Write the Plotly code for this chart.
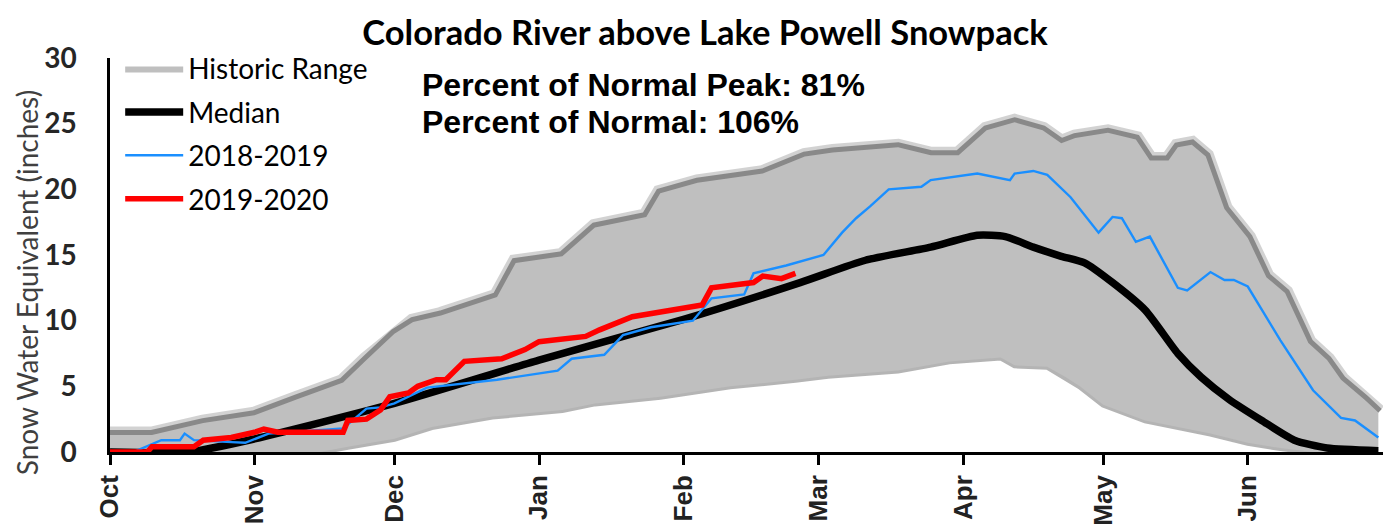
import plotly.graph_objects as go

# ---------------- data ----------------
max_dates = ["2019-10-01", "2019-10-10", "2019-10-21", "2019-11-01", "2019-11-10", "2019-11-20",
             "2019-11-25", "2019-12-01", "2019-12-05", "2019-12-11", "2019-12-23", "2019-12-27",
             "2020-01-06", "2020-01-13", "2020-01-24", "2020-01-27", "2020-02-04", "2020-02-18",
             "2020-02-27", "2020-03-04", "2020-03-18", "2020-03-25", "2020-03-31", "2020-04-06",
             "2020-04-12", "2020-04-18", "2020-04-22", "2020-04-25", "2020-05-02", "2020-05-08",
             "2020-05-11", "2020-05-15", "2020-05-17", "2020-05-20", "2020-05-23", "2020-05-27",
             "2020-06-01", "2020-06-05", "2020-06-09", "2020-06-14", "2020-06-18", "2020-06-21",
             "2020-06-26", "2020-06-29"]
max_vals = [1.3, 1.3, 2.2, 2.8, 4.0, 5.3,
            7.0, 9.0, 9.9, 10.4, 11.8, 14.4,
            14.9, 17.1, 17.9, 19.7, 20.5, 21.2,
            22.5, 22.8, 23.2, 22.6, 22.6, 24.5,
            25.1, 24.5, 23.5, 23.9, 24.3, 23.8,
            22.2, 22.2, 23.2, 23.4, 22.5, 18.5,
            16.3, 13.3, 12.1, 8.3, 7.0, 5.5,
            4.0, 3.0]

min_dates = ["2019-10-01", "2019-11-15", "2019-11-21", "2019-12-01", "2019-12-09", "2019-12-22",
             "2020-01-06", "2020-01-13", "2020-01-27", "2020-02-11", "2020-02-25", "2020-03-03",
             "2020-03-18", "2020-03-29", "2020-04-09", "2020-04-12", "2020-04-19", "2020-04-23",
             "2020-04-26", "2020-05-01", "2020-05-10", "2020-05-24", "2020-06-01", "2020-06-08",
             "2020-06-15", "2020-06-29"]
min_vals = [0.0, 0.0, 0.4, 1.0, 1.9, 2.7,
            3.2, 3.7, 4.2, 5.0, 5.5, 5.8,
            6.2, 6.9, 7.2, 6.6, 6.5, 5.7,
            5.0, 3.6, 2.4, 1.4, 0.7, 0.3,
            0.0, 0.0]

median_dates = ["2019-10-01", "2019-10-18", "2019-11-01", "2019-12-01", "2020-01-01", "2020-02-01",
                "2020-02-26", "2020-03-11", "2020-03-25", "2020-04-04", "2020-04-10", "2020-04-16",
                "2020-04-22", "2020-04-27", "2020-05-03", "2020-05-10", "2020-05-17", "2020-05-22",
                "2020-05-28", "2020-06-04", "2020-06-11", "2020-06-18", "2020-06-29"]
median_vals = [0.0, 0.0, 1.0, 3.7, 7.0, 10.1,
               12.9, 14.6, 15.6, 16.5, 16.4, 15.6,
               14.9, 14.4, 12.9, 10.8, 7.5, 5.7,
               4.0, 2.4, 0.9, 0.3, 0.1]

wy2019_dates = ["2019-10-01", "2019-10-06", "2019-10-12", "2019-10-16", "2019-10-17", "2019-10-19",
                "2019-10-27", "2019-10-30", "2019-11-04", "2019-11-20", "2019-11-25", "2019-11-28",
                "2019-12-01", "2019-12-08", "2019-12-23", "2020-01-05", "2020-01-08", "2020-01-15",
                "2020-01-19", "2020-01-25", "2020-02-03", "2020-02-07", "2020-02-14", "2020-02-16",
                "2020-02-23", "2020-03-02", "2020-03-06", "2020-03-09", "2020-03-12", "2020-03-16",
                "2020-03-23", "2020-03-25", "2020-04-04", "2020-04-11", "2020-04-12", "2020-04-16",
                "2020-04-19", "2020-04-24", "2020-04-30", "2020-05-03", "2020-05-05", "2020-05-08",
                "2020-05-11", "2020-05-17", "2020-05-19", "2020-05-24", "2020-05-27", "2020-05-29",
                "2020-06-01", "2020-06-08", "2020-06-15", "2020-06-21", "2020-06-24", "2020-06-29"]
wy2019_vals = [0.0, 0.0, 0.9, 0.9, 1.4, 0.9,
               0.75, 0.7, 1.4, 1.8, 3.3, 3.4,
               3.7, 4.9, 5.5, 6.2, 7.1, 7.4,
               8.9, 9.5, 10.0, 11.7, 12.0, 13.6,
               14.2, 15.0, 16.7, 17.8, 18.7, 20.0,
               20.2, 20.7, 21.2, 20.7, 21.2, 21.4,
               21.1, 19.4, 16.7, 17.9, 17.8, 16.0,
               16.4, 12.5, 12.3, 13.7, 13.1, 13.1,
               12.6, 8.5, 4.7, 2.6, 2.4, 1.1]

wy2020_dates = ["2019-10-01", "2019-10-09", "2019-10-10", "2019-10-19", "2019-10-21", "2019-10-27",
                "2019-11-01", "2019-11-03", "2019-11-06", "2019-11-20", "2019-11-21", "2019-11-25",
                "2019-11-28", "2019-11-30", "2019-12-04", "2019-12-06", "2019-12-10", "2019-12-12",
                "2019-12-16", "2019-12-24", "2019-12-29", "2020-01-01", "2020-01-11", "2020-01-14",
                "2020-01-21", "2020-01-27", "2020-02-05", "2020-02-07", "2020-02-16", "2020-02-18",
                "2020-02-22", "2020-02-25"]
wy2020_vals = [0.0, 0.0, 0.4, 0.4, 0.9, 1.1,
               1.5, 1.75, 1.5, 1.5, 2.4, 2.5,
               3.2, 4.2, 4.5, 5.0, 5.5, 5.5,
               6.9, 7.1, 7.8, 8.4, 8.8, 9.3,
               10.3, 10.7, 11.2, 12.5, 12.9, 13.4,
               13.2, 13.6]

month_ticks = ["2019-10-01", "2019-11-01", "2019-12-01", "2020-01-01", "2020-02-01",
               "2020-03-01", "2020-04-01", "2020-05-01", "2020-06-01"]
month_labels = ["Oct", "Nov", "Dec", "Jan", "Feb", "Mar", "Apr", "May", "Jun"]

title_text = "Colorado River above Lake Powell Snowpack"
y_title = "Snow Water Equivalent (inches)"
note_lines = ["Percent of Normal Peak: 81%", "Percent of Normal: 106%"]
note_y = [0.931, 0.8376]

# ---------------- figure ----------------
fig = go.Figure()

# soft glow along the band edges (drawn first, partly covered by the fill)
fig.add_trace(go.Scatter(x=max_dates, y=max_vals, mode="lines",
                         line=dict(color="rgba(205,205,205,0.9)", width=17),
                         showlegend=False, hoverinfo="skip"))
fig.add_trace(go.Scatter(x=max_dates, y=max_vals, mode="lines",
                         line=dict(color="rgba(125,125,125,0.85)", width=10),
                         showlegend=False, hoverinfo="skip"))
fig.add_trace(go.Scatter(x=min_dates, y=min_vals, mode="lines",
                         line=dict(color="rgba(130,130,130,0.6)", width=6),
                         showlegend=False, hoverinfo="skip"))

# historic range band
fig.add_trace(go.Scatter(x=min_dates, y=min_vals, mode="lines",
                         line=dict(width=0, color="#BFBFBF"),
                         showlegend=False, hoverinfo="skip", legendgroup="g0"))
fig.add_trace(go.Scatter(x=max_dates, y=max_vals, mode="lines", fill="tonexty",
                         fillcolor="#BFBFBF", line=dict(width=0, color="#BFBFBF"),
                         name="Historic Range", legendgroup="g0"))

fig.add_trace(go.Scatter(x=median_dates, y=median_vals, mode="lines",
                         line=dict(color="black", width=7.5, shape="spline", smoothing=0.6),
                         name="Median", legendgroup="g1"))
fig.add_trace(go.Scatter(x=wy2019_dates, y=wy2019_vals, mode="lines",
                         line=dict(color="#1A8FFF", width=2.4),
                         name="2018-2019", legendgroup="g2"))
fig.add_trace(go.Scatter(x=wy2020_dates, y=wy2020_vals, mode="lines",
                         line=dict(color="#FF0000", width=5.5),
                         name="2019-2020", legendgroup="g3"))

# page body has an 8px margin: figure is 1383x521 so that it fits the 1391x529 window
fig.update_layout(
    width=1383, height=521,
    margin=dict(l=102, r=8, t=50, b=77, autoexpand=False),
    paper_bgcolor="white", plot_bgcolor="white",
    title=dict(text="<b>" + title_text + "</b>", x=0.504, xanchor="center", xref="container",
               y=0.975, yanchor="top", yref="container",
               font=dict(family="Lato", size=34.5, color="black")),
    legend=dict(x=0.008, y=1.036, xanchor="left", yanchor="top",
                font=dict(family="Lato", size=28, color="black"),
                bgcolor="rgba(0,0,0,0)", tracegroupgap=4, itemwidth=58,
                traceorder="grouped"),
    showlegend=True,
)

fig.update_xaxes(type="date", range=["2019-10-01", "2020-06-30"], automargin=False,
                 tickmode="array", tickvals=month_ticks, ticktext=month_labels,
                 tickangle=-90, ticks="outside", ticklen=10, tickwidth=2.5, tickcolor="black",
                 showline=True, linecolor="black", linewidth=2.5, showgrid=False, zeroline=False,
                 tickfont=dict(family="Liberation Sans", size=26, color="#222", weight="bold"))
fig.update_yaxes(range=[0, 30], dtick=5, showline=True, linecolor="black", linewidth=2.5,
                 automargin=False,
                 showgrid=False, zeroline=False, ticks="", ticklabelstandoff=25,
                 tickfont=dict(family="Lato", size=28, color="#262626", weight="bold"))

# y-axis title placed as rotated text in the left margin
fig.add_annotation(text=y_title, xref="paper", yref="paper",
                   x=-0.0655, y=0.43, xanchor="center", yanchor="middle",
                   textangle=-90, showarrow=False,
                   font=dict(family="Lato", size=28, color="#404040"))

for line, yy in zip(note_lines, note_y):
    fig.add_annotation(text="<b>" + line + "</b>", xref="paper", yref="paper",
                       x=0.2435, y=yy, xanchor="left", yanchor="middle",
                       showarrow=False,
                       font=dict(family="Liberation Sans", size=32, color="black"))

fig.write_html("out.html")
